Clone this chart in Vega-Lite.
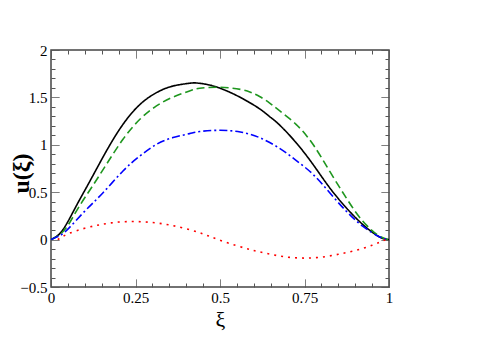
{
  "$schema": "https://vega.github.io/schema/vega-lite/v6.json",
  "width": 338,
  "height": 237,
  "autosize": {"type": "none"},
  "padding": {"left": 51, "top": 50, "right": 91, "bottom": 52},
  "background": "white",
  "config": {
    "view": {"stroke": "#444", "strokeWidth": 1.5},
    "font": "Liberation Serif"
  },
  "datasets": {
    "curves": [
      {"x": 0, "y": 0, "s": "a"},
      {"x": 0.025, "y": 0.06, "s": "a"},
      {"x": 0.05, "y": 0.19, "s": "a"},
      {"x": 0.08, "y": 0.39, "s": "a"},
      {"x": 0.115, "y": 0.616, "s": "a"},
      {"x": 0.164, "y": 0.935, "s": "a"},
      {"x": 0.213, "y": 1.216, "s": "a"},
      {"x": 0.263, "y": 1.425, "s": "a"},
      {"x": 0.312, "y": 1.55, "s": "a"},
      {"x": 0.361, "y": 1.62, "s": "a"},
      {"x": 0.41, "y": 1.649, "s": "a"},
      {"x": 0.43, "y": 1.652, "s": "a"},
      {"x": 0.47, "y": 1.63, "s": "a"},
      {"x": 0.519, "y": 1.57, "s": "a"},
      {"x": 0.568, "y": 1.485, "s": "a"},
      {"x": 0.617, "y": 1.38, "s": "a"},
      {"x": 0.647, "y": 1.297, "s": "a"},
      {"x": 0.676, "y": 1.21, "s": "a"},
      {"x": 0.725, "y": 1.023, "s": "a"},
      {"x": 0.775, "y": 0.794, "s": "a"},
      {"x": 0.824, "y": 0.549, "s": "a"},
      {"x": 0.873, "y": 0.338, "s": "a"},
      {"x": 0.922, "y": 0.161, "s": "a"},
      {"x": 0.971, "y": 0.03, "s": "a"},
      {"x": 1, "y": 0, "s": "a"},
      {"x": 0, "y": 0, "s": "b"},
      {"x": 0.025, "y": 0.05, "s": "b"},
      {"x": 0.05, "y": 0.15, "s": "b"},
      {"x": 0.08, "y": 0.33, "s": "b"},
      {"x": 0.12, "y": 0.55, "s": "b"},
      {"x": 0.164, "y": 0.794, "s": "b"},
      {"x": 0.213, "y": 1.058, "s": "b"},
      {"x": 0.263, "y": 1.269, "s": "b"},
      {"x": 0.312, "y": 1.41, "s": "b"},
      {"x": 0.361, "y": 1.504, "s": "b"},
      {"x": 0.41, "y": 1.568, "s": "b"},
      {"x": 0.44, "y": 1.596, "s": "b"},
      {"x": 0.5, "y": 1.607, "s": "b"},
      {"x": 0.56, "y": 1.585, "s": "b"},
      {"x": 0.59, "y": 1.555, "s": "b"},
      {"x": 0.617, "y": 1.51, "s": "b"},
      {"x": 0.647, "y": 1.44, "s": "b"},
      {"x": 0.676, "y": 1.36, "s": "b"},
      {"x": 0.725, "y": 1.216, "s": "b"},
      {"x": 0.775, "y": 1.005, "s": "b"},
      {"x": 0.824, "y": 0.724, "s": "b"},
      {"x": 0.873, "y": 0.443, "s": "b"},
      {"x": 0.922, "y": 0.196, "s": "b"},
      {"x": 0.971, "y": 0.038, "s": "b"},
      {"x": 1, "y": 0, "s": "b"},
      {"x": 0, "y": 0, "s": "c"},
      {"x": 0.025, "y": 0.04, "s": "c"},
      {"x": 0.05, "y": 0.11, "s": "c"},
      {"x": 0.1, "y": 0.3, "s": "c"},
      {"x": 0.154, "y": 0.495, "s": "c"},
      {"x": 0.213, "y": 0.724, "s": "c"},
      {"x": 0.263, "y": 0.882, "s": "c"},
      {"x": 0.312, "y": 1.005, "s": "c"},
      {"x": 0.361, "y": 1.076, "s": "c"},
      {"x": 0.41, "y": 1.118, "s": "c"},
      {"x": 0.44, "y": 1.14, "s": "c"},
      {"x": 0.5, "y": 1.153, "s": "c"},
      {"x": 0.56, "y": 1.135, "s": "c"},
      {"x": 0.617, "y": 1.076, "s": "c"},
      {"x": 0.676, "y": 0.963, "s": "c"},
      {"x": 0.725, "y": 0.836, "s": "c"},
      {"x": 0.775, "y": 0.689, "s": "c"},
      {"x": 0.824, "y": 0.496, "s": "c"},
      {"x": 0.873, "y": 0.302, "s": "c"},
      {"x": 0.922, "y": 0.143, "s": "c"},
      {"x": 0.971, "y": 0.03, "s": "c"},
      {"x": 1, "y": 0, "s": "c"},
      {"x": 0.02, "y": 0.0, "s": "d"},
      {"x": 0.05, "y": 0.06, "s": "d"},
      {"x": 0.1, "y": 0.12, "s": "d"},
      {"x": 0.15, "y": 0.16, "s": "d"},
      {"x": 0.2, "y": 0.185, "s": "d"},
      {"x": 0.25, "y": 0.19, "s": "d"},
      {"x": 0.3, "y": 0.18, "s": "d"},
      {"x": 0.35, "y": 0.155, "s": "d"},
      {"x": 0.4, "y": 0.115, "s": "d"},
      {"x": 0.45, "y": 0.06, "s": "d"},
      {"x": 0.495, "y": 0.0, "s": "d"},
      {"x": 0.55, "y": -0.065, "s": "d"},
      {"x": 0.6, "y": -0.115, "s": "d"},
      {"x": 0.65, "y": -0.155, "s": "d"},
      {"x": 0.7, "y": -0.185, "s": "d"},
      {"x": 0.75, "y": -0.195, "s": "d"},
      {"x": 0.8, "y": -0.185, "s": "d"},
      {"x": 0.85, "y": -0.155, "s": "d"},
      {"x": 0.9, "y": -0.115, "s": "d"},
      {"x": 0.95, "y": -0.06, "s": "d"},
      {"x": 0.99, "y": 0.0, "s": "d"}
    ]
  },
  "layer": [
    {
      "mark": {"type": "rule", "color": "#333", "strokeWidth": 1.5},
      "encoding": {
        "y": {"datum": 0, "type": "quantitative", "scale": {"domain": [-0.5, 2], "nice": false}, "axis": null}
      }
    },
    {
      "data": {"name": "curves"},
      "mark": {"type": "line", "strokeWidth": 1.6, "clip": true, "interpolate": "natural"},
      "encoding": {
        "x": {
          "field": "x", "type": "quantitative",
          "scale": {"domain": [0, 1], "nice": false, "zero": false},
          "axis": {
            "orient": "bottom",
            "domain": false, "grid": false,
            "title": "ξ",
            "titleFont": "Liberation Serif",
            "titleColor": "#000",
            "titleFontSize": 22,
            "titleFontWeight": "normal",
            "titleBaseline": "alphabetic",
            "titleX": 169,
            "titleY": 39,
            "values": [0,0.05,0.1,0.15,0.2,0.25,0.3,0.35,0.4,0.45,0.5,0.55,0.6,0.65,0.7,0.75,0.8,0.85,0.9,0.95,1],
            "labelExpr": "abs(datum.value*4 - round(datum.value*4)) < 0.001 ? datum.label : ''",
            "format": "",
            "labelFont": "Liberation Serif",
            "labelFontSize": 15,
            "labelColor": "#000",
            "tickColor": "#555",
            "tickWidth": 1,
            "tickSize": -8,
            "tickDash": {"condition": {"test": "abs(datum.value*4 - round(datum.value*4)) < 0.001", "value": [1, 0]}, "value": [4, 20]},
            "labelPadding": 11,
            "labelFlush": false,
            "labelOverlap": false,
            "encode": {"labels": {"update": {"font": {"value": "Liberation Serif"}}}}
          }
        },
        "y": {
          "field": "y", "type": "quantitative",
          "scale": {"domain": [-0.5, 2], "nice": false, "zero": false},
          "axis": {
            "orient": "left",
            "domain": false, "grid": false,
            "title": "u(ξ)",
            "titleFont": "Liberation Serif",
            "titleColor": "#000",
            "titleFontSize": 24,
            "titleFontWeight": "bold",
            "titleAngle": 270,
            "titleBaseline": "alphabetic",
            "titleAlign": "center",
            "titleX": -23,
            "titleY": 123,
            "values": [-0.5,-0.4,-0.3,-0.2,-0.1,0,0.1,0.2,0.3,0.4,0.5,0.6,0.7,0.8,0.9,1,1.1,1.2,1.3,1.4,1.5,1.6,1.7,1.8,1.9,2],
            "labelExpr": "abs(datum.value*2 - round(datum.value*2)) < 0.001 ? datum.label : ''",
            "format": "",
            "labelFont": "Liberation Serif",
            "labelFontSize": 15,
            "labelColor": "#000",
            "tickColor": "#555",
            "tickWidth": 1,
            "tickSize": -8,
            "tickDash": {"condition": {"test": "abs(datum.value*2 - round(datum.value*2)) < 0.001", "value": [1, 0]}, "value": [4, 20]},
            "labelPadding": 12,
            "labelFlush": false,
            "labelOverlap": false,
            "encode": {"labels": {"update": {"font": {"value": "Liberation Serif"}}}}
          }
        },
        "color": {
          "field": "s", "type": "nominal", "legend": null,
          "scale": {"domain": ["a", "b", "c", "d"], "range": ["#000000", "#1e961e", "#0000ff", "#ff0000"]}
        },
        "strokeDash": {
          "field": "s", "type": "nominal", "legend": null,
          "scale": {"domain": ["a", "b", "c", "d"], "range": [[1, 0], [8, 4], [8, 3, 2, 3], [2, 5]]}
        },
        "strokeWidth": {
          "field": "s", "type": "nominal", "legend": null,
          "scale": {"domain": ["a", "b", "c", "d"], "range": [1.6, 1.6, 1.6, 2.2]}
        }
      }
    },
    {
      "data": {"name": "curves"},
      "mark": {"type": "point", "opacity": 0},
      "encoding": {
        "x": {
          "field": "x", "type": "quantitative",
          "scale": {"domain": [0, 1], "nice": false, "zero": false},
          "axis": {
            "orient": "top", "title": null, "labels": false, "domain": false, "grid": false,
            "values": [0,0.05,0.1,0.15,0.2,0.25,0.3,0.35,0.4,0.45,0.5,0.55,0.6,0.65,0.7,0.75,0.8,0.85,0.9,0.95,1],
            "tickColor": "#555",
            "tickWidth": 1,
            "tickSize": -8,
            "tickDash": {"condition": {"test": "abs(datum.value*4 - round(datum.value*4)) < 0.001", "value": [1, 0]}, "value": [4, 20]}
          }
        },
        "y": {
          "field": "y", "type": "quantitative",
          "scale": {"domain": [-0.5, 2], "nice": false, "zero": false},
          "axis": {
            "orient": "right", "title": null, "labels": false, "domain": false, "grid": false,
            "values": [-0.5,-0.4,-0.3,-0.2,-0.1,0,0.1,0.2,0.3,0.4,0.5,0.6,0.7,0.8,0.9,1,1.1,1.2,1.3,1.4,1.5,1.6,1.7,1.8,1.9,2],
            "tickColor": "#555",
            "tickWidth": 1,
            "tickSize": -8,
            "tickDash": {"condition": {"test": "abs(datum.value*2 - round(datum.value*2)) < 0.001", "value": [1, 0]}, "value": [4, 20]}
          }
        }
      }
    }
  ],
  "resolve": {"axis": {"x": "independent", "y": "independent"}}
}
